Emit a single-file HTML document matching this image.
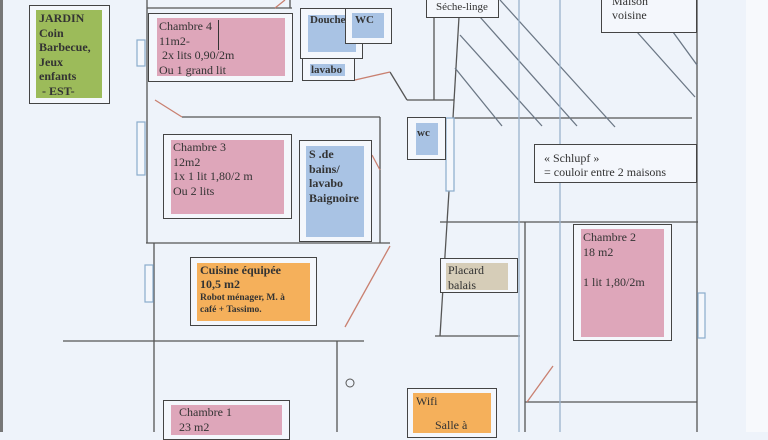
<!DOCTYPE html>
<html><head><meta charset="utf-8"><style>
body{margin:0;width:768px;height:432px;overflow:hidden;background:#eef3fa;font-family:"Liberation Serif",serif;position:relative}
.a{position:absolute;box-sizing:border-box}
.o{border:1.5px solid #444;background:#f4f7fc}
.t{position:absolute;color:#333;line-height:1.2}
</style></head><body>
<div class="a" style="left:0;top:0;width:3px;height:432px;background:#777"></div>
<div class="a" style="left:746px;top:0;width:22px;height:432px;background:#f7f9fc"></div>
<svg class="a" style="left:0;top:0" width="768" height="432">
<g stroke="#555" stroke-width="1.3" fill="none">
<line x1="147" y1="0" x2="147" y2="243"/>
<line x1="147" y1="8" x2="292" y2="8"/>
<line x1="290" y1="0" x2="290" y2="8"/>
<line x1="182" y1="117" x2="380" y2="117"/>
<line x1="380" y1="117" x2="380" y2="243"/>
<line x1="146" y1="243" x2="390" y2="243"/>
<line x1="154" y1="243" x2="154" y2="432"/>
<line x1="63" y1="341" x2="364" y2="341"/>
<line x1="337" y1="341" x2="337" y2="432"/>
<line x1="390" y1="72" x2="407" y2="100"/>
<line x1="407" y1="100" x2="454" y2="100"/>
<line x1="434" y1="17" x2="434" y2="100"/>
<line x1="459" y1="17" x2="453" y2="118"/>
<line x1="453" y1="118" x2="692" y2="118"/>
<line x1="449" y1="191" x2="440" y2="336"/>
<line x1="440" y1="222" x2="698" y2="222"/>
<line x1="435" y1="336" x2="520" y2="336"/>
<line x1="697" y1="0" x2="697" y2="432"/>
<line x1="525" y1="222" x2="525" y2="432"/>
<line x1="525" y1="402" x2="697" y2="402"/>
</g>
<g stroke="#6b7785" stroke-width="1.3">
<line x1="500" y1="0" x2="615" y2="127"/>
<line x1="480" y1="17" x2="577" y2="126"/>
<line x1="460" y1="35" x2="542" y2="126"/>
<line x1="455" y1="68" x2="502" y2="126"/>
<line x1="637" y1="32" x2="695" y2="97"/>
<line x1="673" y1="32" x2="697" y2="65"/>
</g>
<g stroke="#9ab3cc" stroke-width="1.3">
<line x1="519" y1="0" x2="519" y2="432"/>
<line x1="560" y1="0" x2="560" y2="432"/>
</g>
<g stroke="#c98070" stroke-width="1.3">
<line x1="275" y1="8" x2="285" y2="0"/>
<line x1="355" y1="80" x2="390" y2="72"/>
<line x1="155" y1="100" x2="182" y2="117"/>
<line x1="372" y1="155" x2="380" y2="170"/>
<line x1="390" y1="246" x2="345" y2="327"/>
<line x1="527" y1="402" x2="553" y2="366"/>
</g>
<circle cx="350" cy="383" r="4" fill="none" stroke="#555"/>
<g fill="#f4f7fc" stroke="#8aaccc" stroke-width="1.2">
<rect x="137" y="40" width="8" height="26"/>
<rect x="137" y="122" width="8" height="53"/>
<rect x="145" y="265" width="8" height="37"/>
<rect x="698" y="293" width="7" height="45"/>
<rect x="446" y="118" width="8" height="73"/>
</g>
</svg>
<div class="a o" style="left:29px;top:5px;width:81px;height:99px"></div>
<div class="a" style="left:36px;top:10px;width:66px;height:88px;background:#9cbb5a"></div>
<div class="t" style="left:39px;top:11px;font-size:12px;font-weight:bold;line-height:14.5px">JARDIN<br>Coin<br>Barbecue,<br>Jeux<br>enfants<br>&nbsp;- EST-</div>
<div class="a o" style="left:148px;top:13px;width:145px;height:69px"></div>
<div class="a" style="left:157px;top:18px;width:128px;height:58px;background:#dea6ba"></div>
<div class="a" style="left:218px;top:20px;width:1px;height:30px;background:#333"></div>
<div class="t" style="left:159px;top:19px;font-size:12px;line-height:14.5px">Chambre 4<br>11m2-<br>&nbsp;2x lits 0,90/2m<br>Ou 1 grand lit</div>
<div class="a o" style="left:300px;top:8px;width:63px;height:51px"></div>
<div class="a" style="left:308px;top:15px;width:48px;height:37px;background:#a9c3e4"></div>
<div class="t" style="left:310px;top:14px;font-size:11px;font-weight:bold">Douche</div>
<div class="a o" style="left:345px;top:8px;width:47px;height:36px"></div>
<div class="a" style="left:352px;top:13px;width:32px;height:25px;background:#a9c3e4"></div>
<div class="t" style="left:355px;top:14px;font-size:11px;font-weight:bold">WC</div>
<div class="a o" style="left:302px;top:58px;width:53px;height:23px"></div>
<div class="a" style="left:310px;top:64px;width:35px;height:12px;background:#a9c3e4"></div>
<div class="t" style="left:311px;top:64px;font-size:11px;font-weight:bold">lavabo</div>
<div class="a o" style="left:426px;top:-2px;width:73px;height:20px"></div>
<div class="t" style="left:436px;top:1px;font-size:11px">Séche-linge</div>
<div class="a o" style="left:601px;top:-2px;width:96px;height:35px"></div>
<div class="t" style="left:612px;top:-6px;font-size:12px">Maison<br>voisine</div>
<div class="a o" style="left:407px;top:117px;width:39px;height:43px"></div>
<div class="a" style="left:416px;top:123px;width:22px;height:32px;background:#a9c3e4"></div>
<div class="t" style="left:417px;top:127px;font-size:11px;font-weight:bold">wc</div>
<div class="a o" style="left:534px;top:144px;width:163px;height:39px"></div>
<div class="t" style="left:544px;top:151px;font-size:12px">« Schlupf »<br>= couloir entre 2 maisons</div>
<div class="a o" style="left:163px;top:134px;width:129px;height:85px"></div>
<div class="a" style="left:171px;top:140px;width:113px;height:74px;background:#dea6ba"></div>
<div class="t" style="left:173px;top:140px;font-size:12px;line-height:14.5px">Chambre 3<br>12m2<br>1x 1 lit 1,80/2 m<br>Ou 2 lits</div>
<div class="a o" style="left:299px;top:140px;width:73px;height:102px"></div>
<div class="a" style="left:306px;top:146px;width:58px;height:91px;background:#a9c3e4"></div>
<div class="t" style="left:309px;top:147px;font-size:12px;font-weight:bold;line-height:14.5px">S .de<br>bains/<br>lavabo<br>Baignoire</div>
<div class="a o" style="left:190px;top:257px;width:127px;height:69px"></div>
<div class="a" style="left:197px;top:263px;width:113px;height:58px;background:#f5b05b"></div>
<div class="t" style="left:200px;top:263px;font-size:12px;font-weight:bold;line-height:14px">Cuisine équipée<br>10,5 m2</div>
<div class="t" style="left:200px;top:292px;font-size:9.5px;font-weight:bold;line-height:12px">Robot ménager, M. à<br>café + Tassimo.</div>
<div class="a o" style="left:440px;top:258px;width:78px;height:35px"></div>
<div class="a" style="left:446px;top:263px;width:62px;height:27px;background:#d6cdb8"></div>
<div class="a" style="left:448px;top:262px;width:60px;height:27px;overflow:hidden"><div class="t" style="left:0;top:1px;font-size:12px;line-height:15px">Placard<br>balais</div></div>
<div class="a o" style="left:573px;top:224px;width:99px;height:117px"></div>
<div class="a" style="left:581px;top:229px;width:83px;height:108px;background:#dea6ba"></div>
<div class="t" style="left:583px;top:230px;font-size:12px;line-height:15px">Chambre 2<br>18 m2<br><br>1 lit 1,80/2m</div>
<div class="a o" style="left:163px;top:400px;width:127px;height:40px"></div>
<div class="a" style="left:171px;top:405px;width:111px;height:30px;background:#dea6ba"></div>
<div class="t" style="left:179px;top:405px;font-size:12px;line-height:15px">Chambre 1<br>23 m2</div>
<div class="a o" style="left:407px;top:388px;width:90px;height:50px"></div>
<div class="a" style="left:413px;top:393px;width:78px;height:40px;background:#f5b05b"></div>
<div class="t" style="left:416px;top:394px;font-size:12px">Wifi</div>
<div class="t" style="left:435px;top:418px;font-size:12px">Salle à</div>
</body></html>
